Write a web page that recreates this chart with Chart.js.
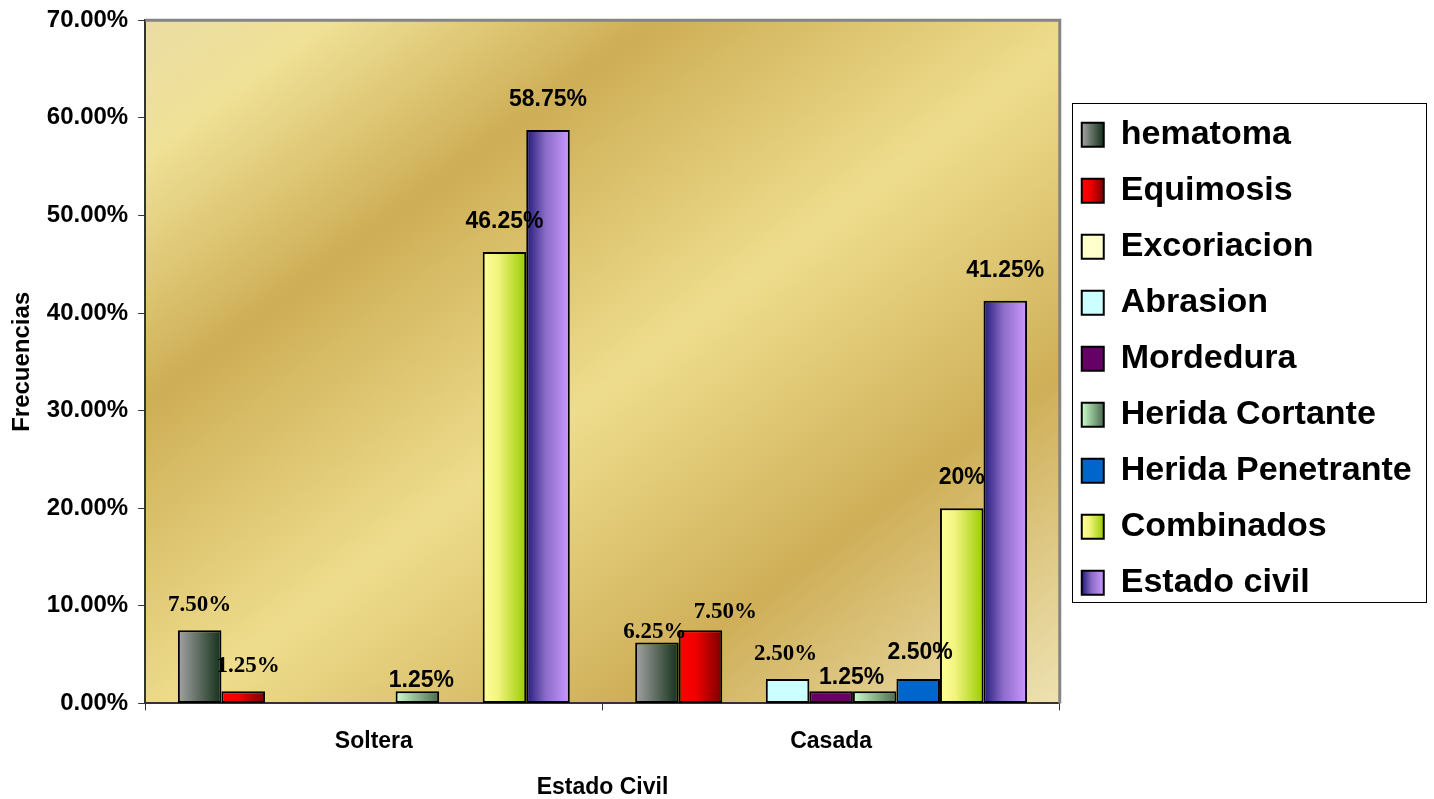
<!DOCTYPE html>
<html>
<head>
<meta charset="utf-8">
<script src="https://cdn.jsdelivr.net/npm/chart.js@4/dist/chart.umd.min.js"></script>
<style>
html, body { margin: 0; padding: 0; background: #fff; }
#wrap { width: 1434px; height: 799px; position: relative; }
</style>
</head>
<body>
<div id="wrap"><canvas id="chart"></canvas></div>
<script>
// data (percent)
var categories = ['Soltera', 'Casada'];
var seriesNames = ['hematoma', 'Equimosis', 'Excoriacion', 'Abrasion', 'Mordedura',
    'Herida Cortante', 'Herida Penetrante', 'Combinados', 'Estado civil'];
var hematoma = [7.5, 6.25];
var equimosis = [1.25, 7.5];
var excoriacion = [0, 0];
var abrasion = [0, 2.5];
var mordedura = [0, 1.25];
var heridaCortante = [1.25, 1.25];
var heridaPenetrante = [0, 2.5];
var combinados = [46.25, 20];
var estadoCivil = [58.75, 41.25];

// value labels as printed on the chart
var hematomaText = ['7.50%', '6.25%'];
var equimosisText = ['1.25%', '7.50%'];
var excoriacionText = [null, null];
var abrasionText = [null, '2.50%'];
var mordeduraText = [null, null];
var heridaCortanteText = ['1.25%', '1.25%'];
var heridaPenetranteText = [null, '2.50%'];
var combinadosText = ['46.25%', '20%'];
var estadoCivilText = ['58.75%', '41.25%'];

var yTicks = [0, 10, 20, 30, 40, 50, 60, 70];

var sans = '"Liberation Sans", Arial, sans-serif';
var serif = '"Liberation Serif", "Times New Roman", serif';

// horizontal fills of each series (left -> right)
var fills = [
    [[0, '#a4a4a4'], [1, '#13301a']],
    [[0, '#ff0000'], [0.4, '#ef0000'], [1, '#7a0000']],
    [[0, '#ffffcc'], [1, '#ffffcc']],
    [[0, '#ccffff'], [1, '#ccffff']],
    [[0, '#660066'], [1, '#660066']],
    [[0, '#ccffcc'], [1, '#4a6a4e']],
    [[0, '#0066cc'], [1, '#0066cc']],
    [[0, '#ffff99'], [0.35, '#f2f47e'], [1, '#99cc00']],
    [[0, '#221a7a'], [0.45, '#8c6cc8'], [1, '#cc99ff']]
];

// small moves of single labels: "series:category" -> [dx, dy]
var labelNudge = {
    '1:0': [5, 0],
    '5:0': [4, 19],
    '0:1': [-2, 15],
    '1:1': [25, 7],
    '3:1': [-2, 0],
    '5:1': [-23, 16],
    '6:1': [2, 4],
    '7:1': [0, -1]
};

function hGradient(ctx, x0, x1, stops) {
    var g = ctx.createLinearGradient(x0, 0, x1, 0);
    stops.forEach(function (s) { g.addColorStop(s[0], s[1]); });
    return g;
}

var goldPlot = {
    id: 'goldPlot',
    afterLayout: function (chart) {
        // legend sits a little above the middle of the plot
        chart.legend.top -= 3;
        chart.legend.bottom -= 3;
    },
    beforeDraw: function (chart) {
        var ctx = chart.ctx;
        var a = chart.chartArea;
        var w = a.right - a.left, h = a.bottom - a.top;
        var c = 2 / (1 / (w * w) + 1 / (h * h));
        var g = ctx.createLinearGradient(a.left, a.top, a.left + c / w, a.top + c / h);
        g.addColorStop(0, '#ebdda3');
        g.addColorStop(0.1, '#efe196');
        g.addColorStop(0.28, '#ceae56');
        g.addColorStop(0.52, '#eedd8d');
        g.addColorStop(0.76, '#cfaf58');
        g.addColorStop(1, '#eee2b2');
        ctx.save();
        ctx.fillStyle = g;
        ctx.fillRect(a.left, a.top, w, h);
        ctx.restore();

        // gradient fills for bars and legend boxes
        chart.data.datasets.forEach(function (ds, i) {
            var meta = chart.getDatasetMeta(i);
            meta.data.forEach(function (bar) {
                var opts = Object.assign({}, bar.options);
                opts.backgroundColor = hGradient(ctx, bar.x - bar.width / 2, bar.x + bar.width / 2, fills[i]);
                bar.options = opts;
            });
        });
        var legend = chart.legend;
        if (legend && legend.legendHitBoxes) {
            legend.legendItems.forEach(function (item, i) {
                var hb = legend.legendHitBoxes[i];
                item.fillStyle = hGradient(ctx, hb.left, hb.left + 22, fills[item.datasetIndex]);
                item.strokeStyle = '#000';
                item.lineWidth = 2;
            });
        }
    },
    afterDraw: function (chart) {
        var ctx = chart.ctx;
        var a = chart.chartArea;
        ctx.save();
        ctx.strokeStyle = '#858585';
        ctx.lineWidth = 3;
        ctx.beginPath();
        ctx.moveTo(a.left, a.top);
        ctx.lineTo(a.right, a.top);
        ctx.lineTo(a.right, a.bottom);
        ctx.stroke();

        var legend = chart.legend;
        var boxes = legend.legendHitBoxes;
        var first = boxes[0], last = boxes[boxes.length - 1];
        var right = 0;
        boxes.forEach(function (b) { right = Math.max(right, b.left + b.width); });
        var x0 = Math.round(first.left - 10) + 0.5;
        var y0 = Math.round(first.top - 15) + 0.5;
        var x1 = Math.round(right + 14) + 0.5;
        var y1 = Math.round(last.top + last.height + 2) + 0.5;
        ctx.strokeStyle = '#000';
        ctx.lineWidth = 1;
        ctx.strokeRect(x0, y0, x1 - x0, y1 - y0);
        ctx.restore();
    }
};

var valueLabels = {
    id: 'valueLabels',
    afterDatasetsDraw: function (chart) {
        var ctx = chart.ctx;
        ctx.save();
        ctx.fillStyle = '#000';
        ctx.textAlign = 'center';
        ctx.textBaseline = 'middle';
        chart.data.datasets.forEach(function (ds, i) {
            var meta = chart.getDatasetMeta(i);
            meta.data.forEach(function (bar, j) {
                var text = ds.labelText[j];
                if (!text) return;
                var nudge = labelNudge[i + ':' + j] || [0, 0];
                ctx.font = 'bold 23px ' + (ds.serifLabel ? serif : sans);
                var lift = ds.serifLabel ? 25 : 30;
                ctx.fillText(text, bar.x + nudge[0], bar.y - lift + nudge[1]);
            });
        });
        ctx.restore();
    }
};

var seriesValues = [hematoma, equimosis, excoriacion, abrasion, mordedura,
    heridaCortante, heridaPenetrante, combinados, estadoCivil];
var seriesText = [hematomaText, equimosisText, excoriacionText, abrasionText, mordeduraText,
    heridaCortanteText, heridaPenetranteText, combinadosText, estadoCivilText];

var datasets = seriesNames.map(function (name, i) {
    return {
        label: name,
        data: seriesValues[i],
        labelText: seriesText[i],
        serifLabel: i < 5,
        backgroundColor: fills[i][0][1],
        borderColor: '#000',
        borderWidth: function (c) { return c.raw === 0 ? 0 : 2; },
        borderSkipped: false
    };
});

var ctx = document.getElementById('chart').getContext('2d');
var myChart = new Chart(ctx, {
    type: 'bar',
    data: {
        labels: categories,
        datasets: datasets
    },
    plugins: [goldPlot, valueLabels],
    options: {
        responsive: true,
        maintainAspectRatio: false,
        animation: false,
        events: [],
        categoryPercentage: 0.857,
        barPercentage: 1,
        layout: {
            padding: { top: 0, right: 21, bottom: 0, left: 0 }
        },
        plugins: {
            tooltip: { enabled: false },
            legend: {
                position: 'right',
                fullSize: false,
                labels: {
                    boxWidth: 22,
                    boxHeight: 24,
                    padding: 22,
                    color: '#000',
                    font: { family: sans, size: 34, weight: 'bold' }
                }
            }
        },
        scales: {
            x: {
                grid: {
                    drawOnChartArea: false,
                    tickLength: 7,
                    color: '#333'
                },
                border: { color: '#333', width: 2 },
                ticks: {
                    color: '#000',
                    padding: 17,
                    font: { family: sans, size: 23, weight: 'bold' }
                },
                title: {
                    display: true,
                    text: 'Estado Civil',
                    color: '#000',
                    padding: { top: 4, bottom: 0 },
                    font: { family: sans, size: 23, weight: 'bold', lineHeight: 1 }
                }
            },
            y: {
                min: yTicks[0],
                max: yTicks[yTicks.length - 1],
                afterBuildTicks: function (axis) {
                    axis.ticks = yTicks.map(function (v) { return { value: v }; });
                },
                grid: {
                    drawOnChartArea: false,
                    tickLength: 7,
                    color: '#333'
                },
                border: { color: '#333', width: 2 },
                ticks: {
                    color: '#000',
                    padding: 10,
                    font: { family: sans, size: 24, weight: 'bold', lineHeight: 0.85 },
                    callback: function (value) { return value.toFixed(2) + '%'; }
                },
                title: {
                    display: true,
                    text: 'Frecuencias',
                    color: '#000',
                    padding: { top: 8, bottom: 0 },
                    font: { family: sans, size: 24, weight: 'bold' }
                }
            }
        }
    }
});
</script>
</body>
</html>
